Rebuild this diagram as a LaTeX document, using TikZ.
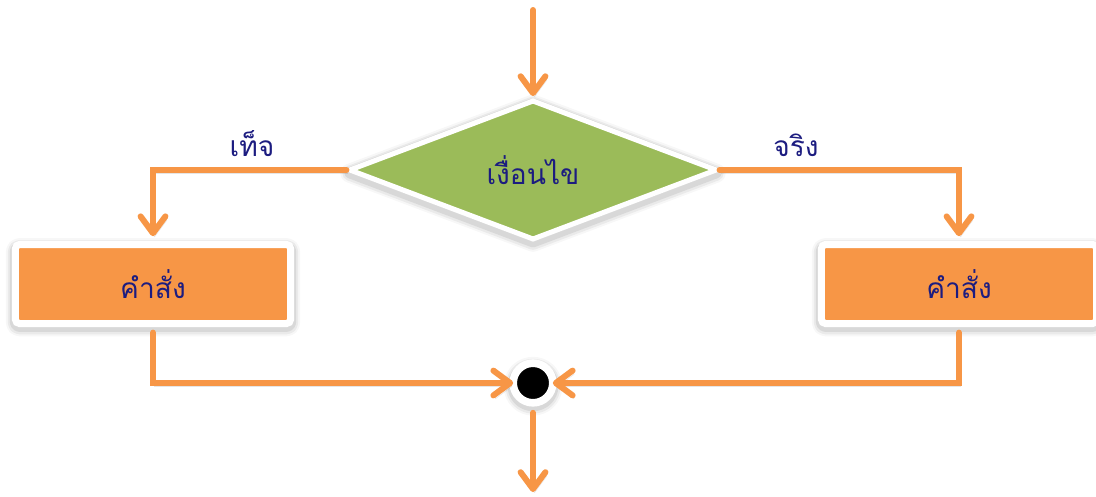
\documentclass[tikz,border=0pt]{standalone}
\usepackage{fontspec}
\newfontfamily\thaifont[Script=Thai]{Loma}
\usetikzlibrary{shapes.geometric,arrows.meta,shadows}

\definecolor{floworange}{HTML}{F79646}
\definecolor{condgreen}{HTML}{9BBB59}
\definecolor{thaiblue}{RGB}{28,28,128}

\begin{document}
\begin{tikzpicture}[x=0.025cm, y=-0.025cm,
    thaitext/.style={text=thaiblue, font=\thaifont\fontsize{20}{24}\selectfont},
    % stacked outline shadows, wider ones fainter, so the edge looks soft
    soft/.style={
      general shadow={shadow yshift=-0.08cm, draw=black, line width=0.48cm, line join=round, opacity=0.03},
      general shadow={shadow yshift=-0.08cm, draw=black, line width=0.38cm, line join=round, opacity=0.05},
      general shadow={shadow yshift=-0.07cm, draw=black, line width=0.28cm, line join=round, opacity=0.08}},
    cond/.style={diamond, thaitext, soft, fill=condgreen, draw=white, line width=0.125cm,
      minimum width=9.2cm, minimum height=3.5cm, inner sep=0pt},
    cmdbox/.style={rectangle, thaitext, soft, fill=floworange, draw=white, line width=0.175cm,
      rounded corners=0.1cm, minimum width=6.875cm, minimum height=1.975cm},
    joint/.style={circle, soft, fill=black, draw=white, line width=0.19cm,
      minimum size=0.99cm, inner sep=0pt, outer sep=0pt},
    flow/.style={floworange, line width=0.15cm, line cap=round,
      -{Straight Barb[length=0.42cm, width=0.62cm, line cap=round, line join=round]},
      preaction={draw=black, opacity=0.10, transform canvas={shift={(0.04cm,-0.09cm)}}}}]

  \useasboundingbox (0,0) rectangle (1096,496);

  % decision and the two branches
  \node[cond] (cond) at (533,170) {เงื่อนไข};
  \node[cmdbox] (lcmd) at (153,284) {คำสั่ง};
  \node[cmdbox] (rcmd) at (959,284) {คำสั่ง};
  \node[joint] (join) at (533,383) {};

  \coordinate (in) at (533,10);
  \coordinate (out) at (533,492);

  \node[thaitext] (no) at (252,144) {เท็จ};
  \node[thaitext] (yes) at (796,145) {จริง};

  % connectors
  \draw[flow, shorten >=1pt] (in) -- (cond.north);
  \draw[flow, shorten >=0.12cm] (cond.west) -| (lcmd.north);
  \draw[flow, shorten >=0.12cm] (cond.east) -| (rcmd.north);
  \draw[flow, shorten <=0.14cm] (lcmd.south) |- (join.west);
  \draw[flow, shorten <=0.14cm] (rcmd.south) |- (join.east);
  \draw[flow, shorten <=0.25cm] (join.south) -- (out);

\end{tikzpicture}
\end{document}
